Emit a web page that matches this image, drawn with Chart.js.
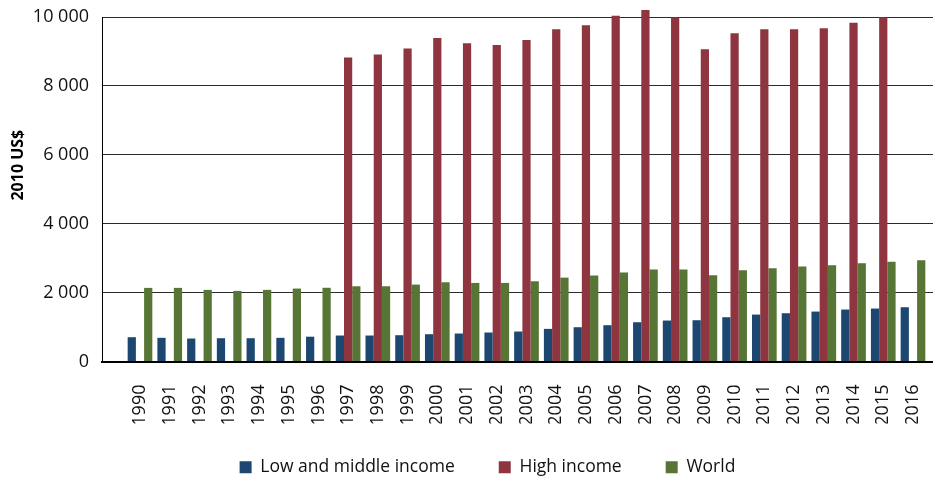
<!DOCTYPE html>
<html>
<head>
<meta charset="utf-8">
<script src="https://cdn.jsdelivr.net/npm/chart.js@4.4.1/dist/chart.umd.min.js"></script>
<style>
  html, body { margin: 0; padding: 0; background: #fff; }
</style>
</head>
<body>
<canvas id="chart" width="933" height="478"></canvas>
<script>
// data
const years = [1990, 1991, 1992, 1993, 1994, 1995, 1996, 1997, 1998, 1999, 2000, 2001, 2002,
  2003, 2004, 2005, 2006, 2007, 2008, 2009, 2010, 2011, 2012, 2013, 2014, 2015, 2016];
const lowMiddle = [705, 687, 667, 676, 676, 687, 720, 754, 754, 763, 792, 812, 841,
  870, 947, 995, 1053, 1140, 1189, 1198, 1285, 1362, 1401, 1449, 1508, 1537, 1575];
const highIncome = [null, null, null, null, null, null, null, 8822, 8909, 9083, 9393, 9239, 9190,
  9335, 9645, 9761, 10039, 10205, 9990, 9065, 9529, 9645, 9645, 9674, 9836, 9993, null];
const world = [2137, 2137, 2079, 2050, 2079, 2117, 2140, 2184, 2184, 2232, 2300, 2281, 2281,
  2329, 2435, 2493, 2580, 2667, 2667, 2503, 2648, 2706, 2754, 2793, 2851, 2899, 2938];
const seriesNames = ["Low and middle income", "High income", "World"];
const yTitle = "2010 US$";
const yMax = 10000;
const yStep = 2000;

const FONT = "'Open Sans', sans-serif";
const colors = { low: "#1b4770", high: "#8f3540", world: "#577534" };

// 10000 -> "10 000"
function fmt(v) {
  return String(v).replace(/\B(?=(\d{3})+(?!\d))/g, " ");
}

function series(values) {
  return years.map((y, i) => ({ x: y, y: values[i] }));
}

function makeDs(label, values, color) {
  return {
    label: label,
    data: series(values),
    backgroundColor: color,
    borderWidth: 0,
    clip: false, // 2006/2007 go above the 10 000 line
  };
}

// axis title drawn a bit above the middle, like the original
const axisTitle = {
  id: "axisTitle",
  afterDraw(chart) {
    const { ctx, chartArea } = chart;
    ctx.save();
    ctx.translate(18, chartArea.top + (chartArea.bottom - chartArea.top) * 0.43);
    ctx.rotate(-Math.PI / 2);
    ctx.font = "bold 16px " + FONT;
    ctx.fillStyle = "#000";
    ctx.textAlign = "center";
    ctx.textBaseline = "middle";
    ctx.fillText(yTitle, 0, 0);
    ctx.restore();
  },
};

// legend sits a little right of centre and tighter under the axis labels
const legendNudge = {
  id: "legendNudge",
  afterLayout(chart) {
    const lg = chart.legend;
    lg.left += 21; lg.right += 21;
    lg.top -= 9; lg.bottom -= 9;
  },
};

new Chart(document.getElementById("chart"), {
  type: "bar",
  data: {
    datasets: [
      makeDs(seriesNames[0], lowMiddle, colors.low),
      makeDs(seriesNames[1], highIncome, colors.high),
      makeDs(seriesNames[2], world, colors.world),
    ],
  },
  plugins: [axisTitle, legendNudge],
  options: {
    responsive: false,
    devicePixelRatio: 1,
    animation: false,
    categoryPercentage: 0.83,
    barPercentage: 1,
    layout: { padding: { left: 0, right: 0, top: 17, bottom: -17 } },
    plugins: {
      tooltip: { enabled: false },
      legend: {
        position: "bottom",
        labels: {
          boxWidth: 12,
          boxHeight: 12,
          padding: 44,
          color: "#111",
          font: { family: FONT, size: 17.5 },
        },
      },
    },
    scales: {
      x: {
        type: "linear",
        offset: false,
        min: 1988.722,
        max: 2016.673,
        afterBuildTicks: (s) => { s.ticks = years.map((v) => ({ value: v })); },
        afterFit: (s) => { s.height = 62; s.paddingLeft = 0; s.paddingRight = 0; },
        grid: { display: false },
        border: { color: "#000", width: 2 },
        ticks: {
          autoSkip: false,
          minRotation: 90,
          maxRotation: 90,
          padding: 15,
          color: "#111",
          font: { family: FONT, size: 18 },
          callback: (v) => String(v),
        },
      },
      y: {
        min: 0,
        max: yMax,
        afterFit: (s) => { s.width = 102; s.paddingTop = 0; s.paddingBottom = 0; },
        grid: { color: "#2b2b2b", drawTicks: false },
        border: { color: "#000", width: 1 },
        ticks: {
          stepSize: yStep,
          padding: 13,
          color: "#111",
          font: { family: FONT, size: 18 },
          callback: (v) => fmt(v),
        },
      },
    },
  },
});
</script>
</body>
</html>
